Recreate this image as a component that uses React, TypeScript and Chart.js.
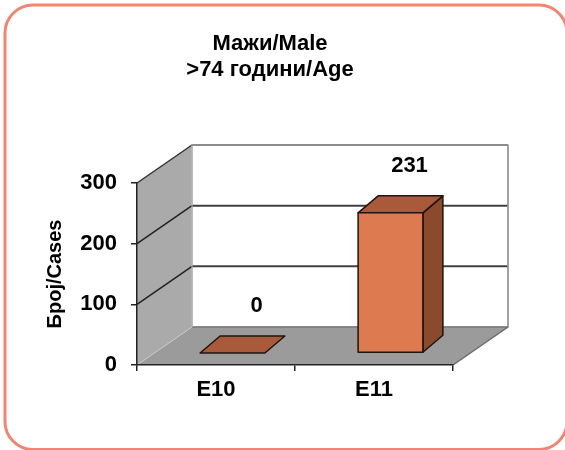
import React, { useEffect, useRef } from "react";
import { Chart, registerables } from "chart.js";

Chart.register(...registerables);

// ---- data ----
const categories = ["E10", "E11"];
const cases = [0, 231];
const yTicks = [0, 100, 200, 300];
const titleLines = ["Мажи/Male", ">74 години/Age"];
const yTitle = "Број/Cases";

// ---- style ----
const FONT = '"Liberation Sans", Arial, Helvetica, sans-serif';
const WALL = { dx: 55, dy: -38 };
const BAR_OFF = { dx: 16.5, dy: -12 };
const BAR_DEPTH = { dx: 20, dy: -17 };

function poly(ctx: CanvasRenderingContext2D, pts: number[][], fill?: string, stroke?: string, lw = 1) {
  ctx.beginPath();
  pts.forEach((p, i) => (i === 0 ? ctx.moveTo(p[0], p[1]) : ctx.lineTo(p[0], p[1])));
  ctx.closePath();
  if (fill) {
    ctx.fillStyle = fill;
    ctx.fill();
  }
  if (stroke) {
    ctx.strokeStyle = stroke;
    ctx.lineWidth = lw;
    ctx.stroke();
  }
}

function line(ctx: CanvasRenderingContext2D, a: number[], b: number[], color: string, lw: number) {
  ctx.beginPath();
  ctx.moveTo(a[0], a[1]);
  ctx.lineTo(b[0], b[1]);
  ctx.strokeStyle = color;
  ctx.lineWidth = lw;
  ctx.stroke();
}

function roundRectPath(ctx: CanvasRenderingContext2D, x: number, y: number, w: number, h: number, r: number) {
  ctx.beginPath();
  ctx.moveTo(x + r, y);
  ctx.lineTo(x + w - r, y);
  ctx.arcTo(x + w, y, x + w, y + r, r);
  ctx.lineTo(x + w, y + h - r);
  ctx.arcTo(x + w, y + h, x + w - r, y + h, r);
  ctx.lineTo(x + r, y + h);
  ctx.arcTo(x, y + h, x, y + h - r, r);
  ctx.lineTo(x, y + r);
  ctx.arcTo(x, y, x + r, y, r);
  ctx.closePath();
}

const threeD = {
  id: "threeD",
  beforeDraw(chart: any) {
    const { ctx, chartArea, scales } = chart;
    const ys = scales.y;
    const x0 = chartArea.left;
    const x1 = chartArea.right;
    const yTop = ys.getPixelForValue(yTicks[yTicks.length - 1]);
    const yBase = ys.getPixelForValue(0);
    const { dx, dy } = WALL;
    ctx.save();
    ctx.fillStyle = "#ffffff";
    ctx.fillRect(0, 0, chart.width, chart.height);

    // rounded border
    roundRectPath(ctx, 5, 5, 562, 444.5, 28);
    ctx.strokeStyle = "#F4846F";
    ctx.lineWidth = 3;
    ctx.stroke();

    // back wall
    poly(ctx, [[x0 + dx, yTop + dy], [x1 + dx, yTop + dy], [x1 + dx, yBase + dy], [x0 + dx, yBase + dy]], "#ffffff", "#a8a8a8", 1.5);
    // side wall
    poly(ctx, [[x0, yTop], [x0 + dx, yTop + dy], [x0 + dx, yBase + dy], [x0, yBase]], "#aaaaaa");
    // floor
    poly(ctx, [[x0, yBase], [x0 + dx, yBase + dy], [x1 + dx, yBase + dy], [x1, yBase]], "#9b9b9b");

    // gridlines on back & side walls
    yTicks.forEach((v) => {
      const yv = ys.getPixelForValue(v);
      if (v === 0) {
        line(ctx, [x0 + dx, yv + dy], [x1 + dx, yv + dy], "#7a7a7a", 1.5);
        line(ctx, [x0, yv], [x0 + dx, yv + dy], "#c8c8c8", 1);
      } else if (v === yTicks[yTicks.length - 1]) {
        line(ctx, [x0 + dx, yv + dy], [x1 + dx, yv + dy], "#8c8c8c", 2);
        line(ctx, [x0, yv], [x0 + dx, yv + dy], "#333333", 1.5);
      } else {
        line(ctx, [x0 + dx, yv + dy], [x1 + dx, yv + dy], "#404040", 2);
        line(ctx, [x0, yv], [x0 + dx, yv + dy], "#222222", 1.5);
      }
    });
    // wall edges
    line(ctx, [x1 + dx, yTop + dy], [x1 + dx, yBase + dy], "#9a9a9a", 1.5);
    line(ctx, [x0 + dx, yTop + dy], [x0 + dx, yBase + dy], "#bdbdbd", 1);
    line(ctx, [x1, yBase], [x1 + dx, yBase + dy], "#6a6a6a", 1.5);
    ctx.restore();
  },
  afterDatasetsDraw(chart: any) {
    const { ctx } = chart;
    const meta = chart.getDatasetMeta(0);
    const data = chart.data.datasets[0].data;
    ctx.save();
    ctx.lineJoin = "round";
    meta.data.forEach((el: any, i: number) => {
      const { x, y, base, width } = el.getProps(["x", "y", "base", "width"], true);
      const L = x - width / 2 + BAR_OFF.dx;
      const R = x + width / 2 + BAR_OFF.dx;
      const T = y + BAR_OFF.dy;
      const B = base + BAR_OFF.dy;
      const ddx = BAR_DEPTH.dx;
      const ddy = BAR_DEPTH.dy;
      const edge = "#1e1410";
      if (B - T > 0.5) {
        poly(ctx, [[R, T], [R + ddx, T + ddy], [R + ddx, B + ddy], [R, B]], "#8B4A2D", edge, 1.5);
      }
      poly(ctx, [[L, T], [R, T], [R + ddx, T + ddy], [L + ddx, T + ddy]], "#A95A3A", edge, 1.5);
      if (B - T > 0.5) {
        poly(ctx, [[L, T], [R, T], [R, B], [L, B]], "#DE7A50", edge, 1.5);
      }
      // value label
      ctx.fillStyle = "#000000";
      ctx.font = `bold 22px ${FONT}`;
      ctx.textAlign = "center";
      ctx.textBaseline = "middle";
      const lx = (L + R) / 2 + ddx + (B - T > 0.5 ? -1 : 4);
      ctx.fillText(String(data[i]), lx, T + ddy - 30);
    });
    ctx.restore();
  },
};

export default function App() {
  const ref = useRef<HTMLCanvasElement | null>(null);
  useEffect(() => {
    if (!ref.current) return;
    const tickFont = { family: FONT, size: 22, weight: "bold" as const };
    const chart = new Chart(ref.current, {
      type: "bar",
      data: {
        labels: categories,
        datasets: [
          {
            data: cases,
            xAxisID: "x",
            yAxisID: "y",
            backgroundColor: "rgba(0,0,0,0)",
            borderWidth: 0,
            categoryPercentage: 1,
            barPercentage: 0.41,
          },
        ],
      },
      options: {
        responsive: false,
        animation: false,
        events: [],
        layout: { padding: { left: 0, right: 25, top: 0, bottom: 0 } },
        plugins: {
          legend: { display: false },
          tooltip: { enabled: false },
          title: {
            display: true,
            text: titleLines,
            color: "#000000",
            font: { family: FONT, size: 22, weight: "bold", lineHeight: "26px" },
            padding: { top: 31, bottom: 100 },
          },
        },
        scales: {
          x: {
            offset: true,
            grid: { offset: true, drawOnChartArea: false, drawTicks: true, tickLength: 6, color: "#222222", lineWidth: 1.5 },
            border: { display: true, color: "#222222", width: 1.5 },
            ticks: { font: tickFont, color: "#000000", padding: 6 },
            afterFit: (s: any) => {
              s.height = 85;
            },
          },
          y: {
            position: "left",
            min: yTicks[0],
            max: yTicks[yTicks.length - 1],
            afterBuildTicks: (s: any) => {
              s.ticks = yTicks.map((v) => ({ value: v }));
            },
            grid: { drawOnChartArea: false, drawTicks: true, tickLength: 6, color: "#222222", lineWidth: 1.5 },
            border: { display: true, color: "#222222", width: 1.5 },
            ticks: { font: tickFont, color: "#000000", padding: 14 },
            title: {
              display: true,
              text: yTitle,
              color: "#000000",
              font: { family: FONT, size: 20, weight: "bold" },
              padding: { top: 43, bottom: 0 },
            },
            afterFit: (s: any) => {
              s.width = 137;
            },
          },
          yRight: {
            type: "linear",
            position: "right",
            display: true,
            grid: { display: false, drawTicks: false },
            border: { display: false },
            ticks: { display: false },
            afterFit: (s: any) => {
              s.width = 87;
            },
          },
        },
      },
      plugins: [threeD],
    });
    return () => chart.destroy();
  }, []);
  return (
    <div style={{ position: "absolute", left: 0, top: 0, width: 565, height: 450 }}>
      <canvas ref={ref} width={565} height={450} style={{ display: "block" }} />
    </div>
  );
}
